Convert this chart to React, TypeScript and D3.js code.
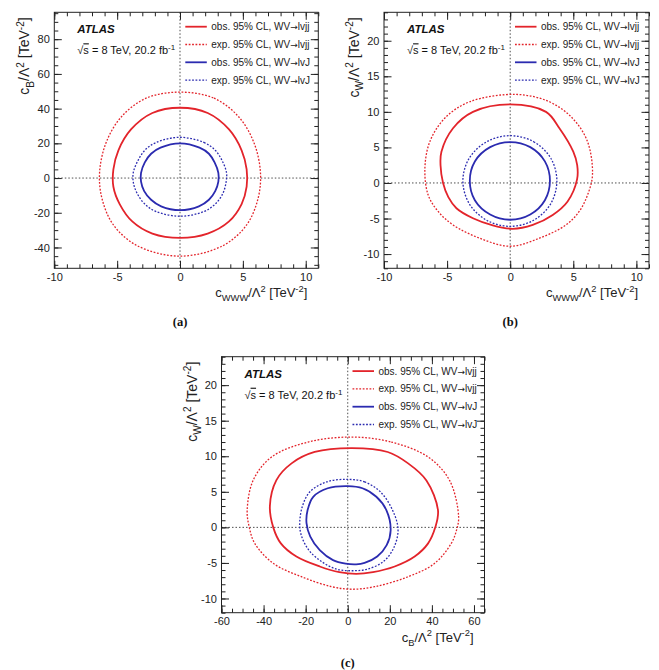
import React, { useRef, useEffect } from "react";
import * as d3 from "d3";

type Pt = [number, number];

// (a) cWWW vs cB
const obsLvjjA: Pt[] = [
  [0, 40.5], [2.2, 37.5], [3.9, 28], [4.9, 16], [5.3, 5], [5.3, -5], [4.9, -15], [3.9, -25], [2.2, -32],
  [0, -34.5], [-2.2, -32], [-3.8, -25], [-4.8, -15], [-5.3, -5], [-5.3, 5], [-4.9, 16], [-3.9, 28], [-2.2, 37.5],
];
const expLvjjA: Pt[] = [
  [0, 49.5], [2.7, 46], [4.7, 35], [5.9, 20], [6.4, 3], [6.2, -12], [5.3, -27], [3.4, -39], [0, -45],
  [-3.4, -39], [-5.3, -27], [-6.2, -12], [-6.4, 3], [-5.9, 20], [-4.7, 35], [-2.7, 46],
];
const obsLvJA: Pt[] = [
  [0, 20], [1.55, 17.5], [2.3, 14], [2.75, 9], [3.05, 3], [3.05, -2], [2.8, -7.5], [2.3, -12.5], [1.5, -16.3],
  [0, -18.5], [-1.5, -16.3], [-2.3, -12.5], [-2.85, -7.5], [-3.1, -2], [-3.1, 3], [-2.8, 9], [-2.3, 14], [-1.55, 17.5],
];
const expLvJA: Pt[] = [
  [0, 23.5], [1.9, 20.5], [2.8, 16], [3.35, 10], [3.7, 3], [3.65, -3], [3.4, -9], [2.8, -15], [1.9, -19.3],
  [0, -22], [-1.9, -19.3], [-2.8, -15], [-3.4, -9], [-3.7, -3], [-3.72, 3], [-3.35, 10], [-2.8, 16], [-1.9, 20.5],
];

// (b) cWWW vs cW
const obsLvjjB: Pt[] = [
  [0, 11.05], [2.84, 10.0], [3.9, 7.7], [5.0, 4.4], [5.31, 2.5], [5.3, 0.5], [4.55, -2.6], [3.37, -4.5],
  [1.79, -5.9], [0.2, -6.45], [-1.5, -5.9], [-2.95, -4.97], [-4.26, -3.56], [-4.9, -2.0], [-5.32, 0],
  [-5.52, 2.5], [-5.45, 4.4], [-4.53, 7.7], [-2.95, 10.0],
];
const expLvjjB: Pt[] = [
  [0.5, 12.45], [3.1, 11.42], [4.94, 9.1], [6.13, 5.8], [6.52, 1.1], [6.13, -1.69], [5.47, -4.0], [4.42, -5.9],
  [2.31, -7.77], [0, -8.9], [-2.42, -7.77], [-4.53, -5.9], [-5.71, -4.0], [-6.5, -1.69], [-6.76, 2.0],
  [-6.37, 5.8], [-5.19, 9.1], [-3.21, 11.42],
];
const obsLvJB: Pt[] = [
  [0, 5.75], [1.59, 5.04], [2.75, 3.03], [3.15, 0.3], [2.75, -2.43], [1.59, -4.44], [0, -5.17],
  [-1.59, -4.44], [-2.8, -2.43], [-3.2, 0.3], [-2.8, 3.03], [-1.59, 5.04],
];
const expLvJB: Pt[] = [
  [0, 6.65], [1.86, 5.8], [3.22, 3.47], [3.7, 0.3], [3.22, -2.9], [1.86, -5.25], [0, -6.1],
  [-1.86, -5.25], [-3.25, -2.9], [-3.75, 0.3], [-3.25, 3.47], [-1.86, 5.8],
];

// (c) cB vs cW
const obsLvjjC: Pt[] = [
  [2, 11.15], [19, 10.6], [28.7, 9.0], [37.4, 6.6], [42.9, 2.4], [41.6, 0], [38.2, -2.25], [31.8, -4.1],
  [22.3, -5.5], [12, -6.3], [4, -6.55], [-4, -6.3], [-13.3, -5.5], [-24.4, -4.1], [-31.8, -2.25], [-35.4, 0],
  [-37, 3], [-33.9, 6.65], [-26.7, 9.0], [-15.7, 10.6],
];
const expLvjjC: Pt[] = [
  [2, 12.7], [20.7, 12.0], [38.2, 9.9], [48.4, 6.6], [52.7, 1.5], [51.6, -0.5], [49.2, -2.25], [41.3, -5.06],
  [28.7, -6.94], [12.8, -8.34], [2, -8.7], [-7.7, -8.34], [-22, -6.94], [-35.4, -5.06], [-44.2, -2.25],
  [-46.8, 0], [-47.8, 2.4], [-44.9, 6.65], [-36.2, 9.9], [-18.8, 12.0],
];
const obsLvJC: Pt[] = [
  [0, 5.8], [7, 5.5], [13.6, 4.3], [18.4, 2.4], [20.4, -0.4], [18.5, -2.5], [14, -4.1], [8, -5.0],
  [4, -5.2], [-1, -5.1], [-7, -4.6], [-13.3, -3.2], [-17.8, -1.3], [-19.6, 0.6], [-19.1, 2.4],
  [-16.4, 4.3], [-9.5, 5.5],
];
const expLvJC: Pt[] = [
  [0, 6.75], [8, 6.4], [15.5, 5.0], [21, 2.6], [23.9, -0.2], [22, -2.8], [17, -4.8], [9, -5.9],
  [2, -6.1], [-5, -5.9], [-12, -4.9], [-18.5, -3.2], [-22.2, -1.0], [-22.8, 0.8], [-21.5, 3.0],
  [-18, 5.0], [-10, 6.4],
];

const legendLabels: [string, string][] = [
  ["obs. 95% CL, WV", "lvjj"],
  ["exp. 95% CL, WV", "lvjj"],
  ["obs. 95% CL, WV", "lvJ"],
  ["exp. 95% CL, WV", "lvJ"],
];

const ticksCWWW = [-10, -5, 0, 5, 10];
const ticksCBwide = [-40, -20, 0, 20, 40, 60, 80];
const ticksCW = [-10, -5, 0, 5, 10, 15, 20];
const ticksCBx = [-60, -40, -20, 0, 20, 40, 60];

const RED = "#e3242b";
const BLUE = "#2b2bb0";
const styles = [
  { color: RED, dash: null },
  { color: RED, dash: "1.8,1.6" },
  { color: BLUE, dash: null },
  { color: BLUE, dash: "1.8,1.6" },
];

const FONT = "'Liberation Sans', Arial, Helvetica, sans-serif";

interface PanelProps {
  left: number;
  top: number;
  width: number;
  height: number;
  xDomain: [number, number];
  yDomain: [number, number];
  xTicks: number[];
  yTicks: number[];
  xMinor: number;
  yMinor: number;
  xSub: string;
  ySub: string;
  tag: string;
  tagY: number;
  contours: Pt[][];
}

// c_sub / Λ^2 [TeV^-2]
const writeTitle = (t: any, sub: string, size: number) => {
  const s = size * 0.72;
  t.append("tspan").text("c");
  t.append("tspan").attr("dy", size * 0.3).attr("font-size", s).text(sub);
  t.append("tspan").attr("dy", -size * 0.3).text("/\u039B");
  t.append("tspan").attr("dy", -size * 0.4).attr("font-size", s).text("2");
  t.append("tspan").attr("dy", size * 0.4).text(" [TeV");
  t.append("tspan").attr("dy", -size * 0.4).attr("font-size", s).text("-2");
  t.append("tspan").attr("dy", size * 0.4).text("]");
};

const Panel: React.FC<PanelProps> = (p) => {
  const gRef = useRef<SVGGElement | null>(null);

  useEffect(() => {
    if (!gRef.current) return;
    const g = d3.select(gRef.current);
    g.selectAll("*").remove();

    const { width: W, height: H } = p;
    const x = d3.scaleLinear().domain(p.xDomain).range([0, W]);
    const y = d3.scaleLinear().domain(p.yDomain).range([H, 0]);

    const clipId = "clip-" + p.tag;
    g.append("clipPath").attr("id", clipId).append("rect").attr("width", W).attr("height", H);

    // crosshair at zero
    const cross = g.append("g").attr("stroke", "#222").attr("stroke-width", 0.8).attr("stroke-dasharray", "1.5,2");
    cross.append("line").attr("x1", x(0)).attr("x2", x(0)).attr("y1", 0).attr("y2", H);
    cross.append("line").attr("x1", 0).attr("x2", W).attr("y1", y(0)).attr("y2", y(0));

    // contours
    const line = d3
      .line<Pt>()
      .x((d) => x(d[0]))
      .y((d) => y(d[1]))
      .curve(d3.curveCatmullRomClosed.alpha(0.5));
    const cg = g.append("g").attr("clip-path", `url(#${clipId})`);
    p.contours.forEach((c, i) => {
      const st = styles[i];
      cg.append("path")
        .datum(c)
        .attr("fill", "none")
        .attr("stroke", st.color)
        .attr("stroke-width", st.dash ? 1.3 : 1.8)
        .attr("stroke-dasharray", st.dash)
        .attr("d", line);
    });

    // ticks on all four sides, pointing in
    const xMin = d3.range(p.xDomain[0], p.xDomain[1] + 1e-9, p.xMinor);
    const yMin = d3.range(Math.ceil(p.yDomain[0] / p.yMinor) * p.yMinor, p.yDomain[1] + 1e-9, p.yMinor);
    const axes = [
      { a: d3.axisBottom(x), t: `translate(0,${H})`, vals: p.xTicks, minor: xMin, labels: true },
      { a: d3.axisTop(x), t: "translate(0,0)", vals: p.xTicks, minor: xMin, labels: false },
      { a: d3.axisLeft(y), t: "translate(0,0)", vals: p.yTicks, minor: yMin, labels: true },
      { a: d3.axisRight(y), t: `translate(${W},0)`, vals: p.yTicks, minor: yMin, labels: false },
    ];
    axes.forEach((ax) => {
      const minor = g
        .append("g")
        .attr("transform", ax.t)
        .call(ax.a.tickValues(ax.minor).tickSize(-4).tickSizeOuter(0).tickFormat(() => ""));
      minor.select(".domain").remove();
      const major = g
        .append("g")
        .attr("transform", ax.t)
        .call(
          ax.a
            .tickValues(ax.vals)
            .tickSize(-7.5)
            .tickPadding(4.5)
            .tickFormat((d: any) => (ax.labels ? String(d) : ""))
        );
      major.select(".domain").remove();
      major.selectAll("text").attr("font-family", FONT).attr("font-size", 11).attr("fill", "#222");
      g.selectAll(".tick line").attr("stroke", "#222");
    });

    // frame
    g.append("rect")
      .attr("width", W)
      .attr("height", H)
      .attr("fill", "none")
      .attr("stroke", "#222")
      .attr("stroke-width", 1);

    // ATLAS label
    g.append("text")
      .attr("x", 23)
      .attr("y", 21)
      .attr("font-family", FONT)
      .attr("font-size", 11.5)
      .attr("font-weight", "bold")
      .attr("font-style", "italic")
      .attr("fill", "#111")
      .text("ATLAS");
    const en = g
      .append("text")
      .attr("x", 23)
      .attr("y", 42)
      .attr("font-family", FONT)
      .attr("font-size", 11)
      .attr("fill", "#111");
    en.append("tspan").text("\u221A");
    en.append("tspan").style("text-decoration", "overline").text("s");
    en.append("tspan").text(" = 8 TeV, 20.2 fb");
    en.append("tspan").attr("dy", -4).attr("font-size", 8).text("-1");

    // legend
    const lg = g.append("g").attr("transform", "translate(131,14.4)");
    legendLabels.forEach((lab, i) => {
      const st = styles[i];
      const yy = i * 17.8;
      lg.append("line")
        .attr("x1", 0)
        .attr("x2", 21.5)
        .attr("y1", yy)
        .attr("y2", yy)
        .attr("stroke", st.color)
        .attr("stroke-width", st.dash ? 1.3 : 1.8)
        .attr("stroke-dasharray", st.dash);
      const t = lg
        .append("text")
        .attr("x", 26)
        .attr("y", yy + 3.6)
        .attr("font-family", FONT)
        .attr("font-size", 10)
        .attr("fill", "#222");
      t.append("tspan").text(lab[0]);
      t.append("tspan").attr("font-family", "'DejaVu Sans', sans-serif").attr("font-size", 9).text("\u2192");
      t.append("tspan").text(lab[1]);
    });

    // axis titles
    const xt = g
      .append("text")
      .attr("x", W - 11)
      .attr("y", H + 29)
      .attr("text-anchor", "end")
      .attr("font-family", FONT)
      .attr("font-size", 13)
      .attr("fill", "#222");
    writeTitle(xt, p.xSub, 13);
    const yt = g
      .append("text")
      .attr("transform", `translate(-25,5) rotate(-90)`)
      .attr("text-anchor", "end")
      .attr("font-family", FONT)
      .attr("font-size", 14)
      .attr("fill", "#222");
    writeTitle(yt, p.ySub, 14);

    // panel tag
    g.append("text")
      .attr("x", x(0))
      .attr("y", p.tagY)
      .attr("text-anchor", "middle")
      .attr("font-family", "'Liberation Serif', 'Times New Roman', serif")
      .attr("font-weight", "bold")
      .attr("font-size", 12.5)
      .attr("fill", "#111")
      .text(`(${p.tag})`);
  }, [p]);

  return <g ref={gRef} transform={`translate(${p.left},${p.top})`} />;
};

const App: React.FC = () => (
  <svg
    width={659}
    height={670}
    style={{ position: "absolute", left: 0, top: 0, background: "white" }}
  >
    <Panel
      left={54.3}
      top={12.3}
      width={264}
      height={256}
      xDomain={[-10, 11]}
      yDomain={[-52, 95.5]}
      xTicks={ticksCWWW}
      yTicks={ticksCBwide}
      xMinor={1}
      yMinor={5}
      xSub="WWW"
      ySub="B"
      tag="a"
      tagY={313.7}
      contours={[obsLvjjA, expLvjjA, obsLvJA, expLvJA]}
    />
    <Panel
      left={384}
      top={12.3}
      width={265}
      height={256}
      xDomain={[-10, 11]}
      yDomain={[-12, 24]}
      xTicks={ticksCWWW}
      yTicks={ticksCW}
      xMinor={1}
      yMinor={1}
      xSub="WWW"
      ySub="W"
      tag="b"
      tagY={313.7}
      contours={[obsLvjjB, expLvjjB, obsLvJB, expLvJB]}
    />
    <Panel
      left={221.5}
      top={356.7}
      width={263}
      height={256}
      xDomain={[-60, 65]}
      yDomain={[-12, 24]}
      xTicks={ticksCBx}
      yTicks={ticksCW}
      xMinor={5}
      yMinor={1}
      xSub="B"
      ySub="W"
      tag="c"
      tagY={310.8}
      contours={[obsLvjjC, expLvjjC, obsLvJC, expLvJC]}
    />
  </svg>
);

export default App;
